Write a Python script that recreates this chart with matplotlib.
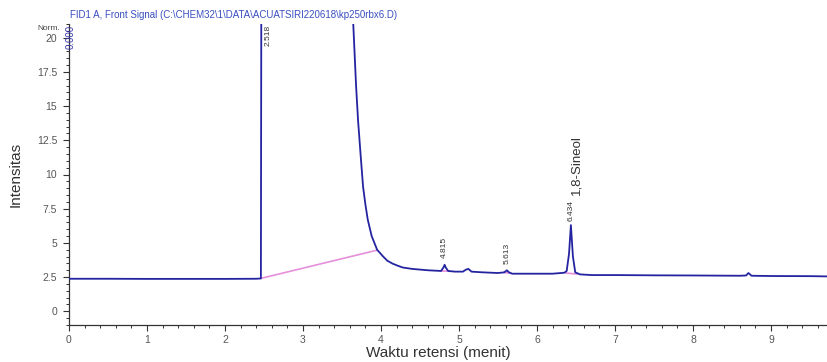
import matplotlib
matplotlib.use("Agg")
import matplotlib.pyplot as plt
from matplotlib.ticker import MultipleLocator

# ---- data ----
time_min = [0.00, 0.50, 1.00, 1.50, 2.00, 2.40, 2.46, 2.47, 2.50, 3.00, 3.60,
            3.64, 3.66, 3.68, 3.705, 3.74, 3.77, 3.80, 3.83, 3.88, 3.95, 4.02,
            4.08, 4.15, 4.22, 4.28, 4.40, 4.50, 4.60, 4.70, 4.77, 4.80, 4.815,
            4.83, 4.86, 4.95, 5.05, 5.09, 5.12, 5.16, 5.30, 5.50, 5.58, 5.613,
            5.64, 5.68, 5.90, 6.20, 6.35, 6.38, 6.41, 6.434, 6.46, 6.49, 6.55,
            6.70, 7.00, 7.50, 8.00, 8.60, 8.68, 8.71, 8.75, 9.00, 9.50, 9.75]
signal = [2.38, 2.38, 2.37, 2.37, 2.37, 2.38, 2.40, 40.0, 40.0, 40.0, 40.0,
          21.5, 19.0, 16.5, 14.0, 11.3, 9.1, 7.8, 6.7, 5.5, 4.5, 4.05,
          3.70, 3.48, 3.32, 3.20, 3.10, 3.05, 3.00, 2.97, 2.95, 3.20, 3.40,
          3.20, 2.95, 2.90, 2.90, 3.05, 3.10, 2.90, 2.85, 2.80, 2.85, 3.00,
          2.85, 2.75, 2.75, 2.75, 2.82, 2.95, 4.20, 6.30, 4.00, 2.85, 2.70,
          2.65, 2.65, 2.63, 2.62, 2.60, 2.62, 2.80, 2.60, 2.58, 2.57, 2.55]

# integration baselines (start time, start y, end time, end y)
base_t0 = [2.47, 4.77, 5.58, 6.37]
base_y0 = [2.42, 2.95, 2.83, 2.80]
base_t1 = [3.95, 4.87, 5.66, 6.51]
base_y1 = [4.47, 2.93, 2.80, 2.72]

peak_rt = [2.518, 4.815, 5.613, 6.434]
peak_labels = ["2.518", "4.815", "5.613", "6.434"]
peak_label_y = [20.9, 3.9, 3.45, 6.6]
compound_name = "1,8-Sineol"
compound_rt = 6.434

x_ticks = [0, 1, 2, 3, 4, 5, 6, 7, 8, 9]
y_ticks = [0, 2.5, 5, 7.5, 10, 12.5, 15, 17.5, 20]
y_tick_labels = ["0", "2.5", "5", "7.5", "10", "12.5", "15", "17.5", "20"]

title_text = r"FID1 A, Front Signal (C:\CHEM32\1\DATA\ACUATSIRI220618\kp250rbx6.D)"

plt.rcParams['font.family'] = ['Liberation Sans', 'DejaVu Sans']

fig = plt.figure(figsize=(8.28, 3.62), dpi=100)
ax = fig.add_axes([69/828, 37/362, (828-69)/828, 301/362])

line_col = "#2424a0"
base_col = "#e690dc"
for t0, y0, t1, y1 in zip(base_t0, base_y0, base_t1, base_y1):
    ax.plot([t0, t1], [y0, y1], color=base_col, lw=1.2, zorder=2)
ax.plot(time_min, signal, color=line_col, lw=1.3, zorder=3)

ax.set_xlim(0, 9.73)
ax.set_ylim(-1, 21)
ax.set_xticks(x_ticks)
ax.set_yticks(y_ticks)
ax.set_yticklabels(y_tick_labels)
ax.xaxis.set_minor_locator(MultipleLocator(0.2))
ax.yaxis.set_minor_locator(MultipleLocator(0.5))
ax.tick_params(which='major', direction='out', length=4.5, width=0.8,
               labelsize=7.5, colors='#333333', labelcolor='#555555', pad=3)
ax.tick_params(axis='y', which='major', pad=4)
ax.tick_params(which='minor', direction='out', length=2, width=0.7,
               colors='#333333')
for s in ['top', 'right']:
    ax.spines[s].set_visible(False)
for s in ['left', 'bottom']:
    ax.spines[s].set_color('#333333')
    ax.spines[s].set_linewidth(0.9)

ax.set_ylabel("Intensitas", fontsize=11, color='#333333', labelpad=10)
fig.text(438/828, 1 - 353/362, "Waktu retensi (menit)", fontsize=11,
         color='#333333', ha='center', va='center')

# peak labels
for rt, lab, ly in zip(peak_rt, peak_labels, peak_label_y):
    va = 'top' if ly > 20 else 'bottom'
    ax.text(rt + (0.03 if ly > 20 else 0), ly, lab, rotation=90, fontsize=6,
            ha='center', va=va, color='#333333')
ax.text(compound_rt + 0.07, 8.5, compound_name, rotation=90, fontsize=9.5,
        ha='center', va='bottom', color='#333333')

# header / marker texts
fig.text(70/828, 1 - 15/362, title_text, fontsize=7, color='#3a4fc0',
         ha='left', va='center')
fig.text(60/828, 1 - 29/362, "Norm.", fontsize=6, color='#444444',
         ha='right', va='center')
ax.text(0.02, 20.9, "0.000", rotation=90, fontsize=7, color='#3a3ab0',
        ha='center', va='top', clip_on=False)

fig.savefig("out.png", dpi=100)
